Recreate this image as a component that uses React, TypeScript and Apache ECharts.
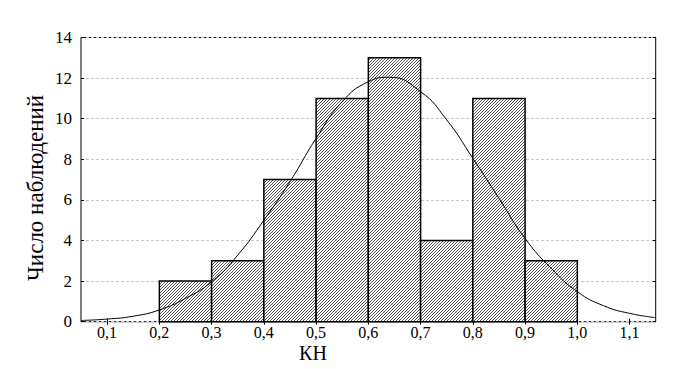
import React, { useEffect, useRef } from "react";
import * as echarts from "echarts";

// Histogram bins: [from, to, count]
const binStarts = [0.2, 0.3, 0.4, 0.5, 0.6, 0.7, 0.8, 0.9];
const binEnds = [0.3, 0.4, 0.5, 0.6, 0.7, 0.8, 0.9, 1.0];
const binCounts = [2, 3, 7, 11, 13, 4, 11, 3];

// Fitted normal curve
const curveX = [0.05, 0.1, 0.15, 0.2, 0.25, 0.3, 0.35, 0.4, 0.45, 0.5, 0.55, 0.6, 0.64, 0.7, 0.75, 0.8, 0.85, 0.9, 0.95, 1.0, 1.05, 1.1, 1.15];
const curveY = [0.06, 0.13, 0.27, 0.58, 1.15, 1.97, 3.28, 5.0, 6.9, 9.03, 10.84, 11.82, 12.04, 11.33, 9.94, 8.05, 6.08, 4.1, 2.63, 1.48, 0.79, 0.41, 0.2];

const xTicks = [0.1, 0.2, 0.3, 0.4, 0.5, 0.6, 0.7, 0.8, 0.9, 1.0, 1.1];
const yTitle = "Число наблюдений";
const xTitle = "КН";

const FONT = "Liberation Serif";

function makeHatch() {
  const c = document.createElement("canvas");
  const n = 3;
  c.width = n;
  c.height = n;
  const ctx = c.getContext("2d")!;
  ctx.fillStyle = "#fff";
  ctx.fillRect(0, 0, n, n);
  ctx.strokeStyle = "#222";
  ctx.lineWidth = 0.75;
  for (const off of [-n, 0, n]) {
    ctx.beginPath();
    ctx.moveTo(off - 1, n + 1);
    ctx.lineTo(off + n + 1, -1);
    ctx.stroke();
  }
  return c;
}

export default function App() {
  const ref = useRef<HTMLDivElement>(null);
  useEffect(() => {
    if (!ref.current) return;
    const chart = echarts.init(ref.current, null, { renderer: "svg" });
    const hatch = makeHatch();
    const pattern: any = { image: hatch, repeat: "repeat", imageWidth: 3, imageHeight: 3 };
    const bins = binStarts.map((s, i) => [s, binEnds[i], binCounts[i]]);
    const curve = curveX.map((x, i) => [x, curveY[i]]);
    const fmt = (v: number) => v.toFixed(1).replace(".", ",");
    chart.setOption({
      animation: false,
      backgroundColor: "#fff",
      textStyle: { fontFamily: FONT },
      grid: { left: 81, top: 37.5, right: 44.3, bottom: 47.3, show: true, borderColor: "#000", borderWidth: 1, backgroundColor: "transparent" },
      xAxis: [
        {
          type: "value",
          min: 0.05,
          max: 1.15,
          axisLine: { show: false },
          axisTick: { show: true, inside: true, length: 3, customValues: xTicks, lineStyle: { color: "#000" } },
          axisLabel: { customValues: xTicks, formatter: fmt, color: "#000", fontFamily: FONT, fontSize: 16, margin: 3 },
          splitLine: { show: false },
        },
        {
          type: "value",
          position: "top",
          min: 0.05,
          max: 1.15,
          axisLine: { show: false },
          axisTick: { show: true, inside: true, length: 3, customValues: xTicks, lineStyle: { color: "#000" } },
          axisLabel: { show: false },
          splitLine: { show: false },
        },
      ],
      yAxis: [
        {
          type: "value",
          min: 0,
          max: 14,
          interval: 2,
          axisLine: { show: false },
          axisTick: { show: true, inside: true, length: 3, lineStyle: { color: "#000" } },
          axisLabel: { color: "#000", fontFamily: FONT, fontSize: 17, margin: 9 },
          splitLine: { show: true, lineStyle: { color: "#c8c8c8", type: [3, 2], width: 1 } },
        },
        {
          type: "value",
          position: "right",
          min: 0,
          max: 14,
          interval: 2,
          axisLine: { show: false },
          axisTick: { show: true, inside: true, length: 3, lineStyle: { color: "#000" } },
          axisLabel: { show: false },
          splitLine: { show: false },
        },
      ],
      graphic: [
        {
          type: "text",
          x: 35,
          y: 188,
          rotation: Math.PI / 2,
          style: { text: yTitle, fontFamily: FONT, fontSize: 23, fill: "#000", textAlign: "center", textVerticalAlign: "middle" },
        },
        {
          type: "text",
          x: 313,
          y: 353,
          style: { text: xTitle, fontFamily: FONT, fontSize: 20, fill: "#000", textAlign: "center", textVerticalAlign: "middle" },
        },
      ],
      series: [
        {
          type: "custom",
          data: bins,
          encode: { x: [0, 1], y: 2 },
          renderItem: (_p: any, api: any) => {
            const a = api.coord([api.value(0), api.value(2)]);
            const b = api.coord([api.value(1), 0]);
            return {
              type: "rect",
              shape: { x: a[0], y: a[1], width: b[0] - a[0], height: b[1] - a[1] },
              style: { fill: pattern, stroke: "#000", lineWidth: 1.5 },
            };
          },
          z: 2,
        },
        {
          type: "line",
          data: curve,
          smooth: true,
          showSymbol: false,
          lineStyle: { color: "#000", width: 1 },
          z: 3,
        },
      ],
    });
    return () => chart.dispose();
  }, []);
  return <div ref={ref} style={{ width: 700, height: 369, position: "absolute", left: 0, top: 0 }} />;
}
